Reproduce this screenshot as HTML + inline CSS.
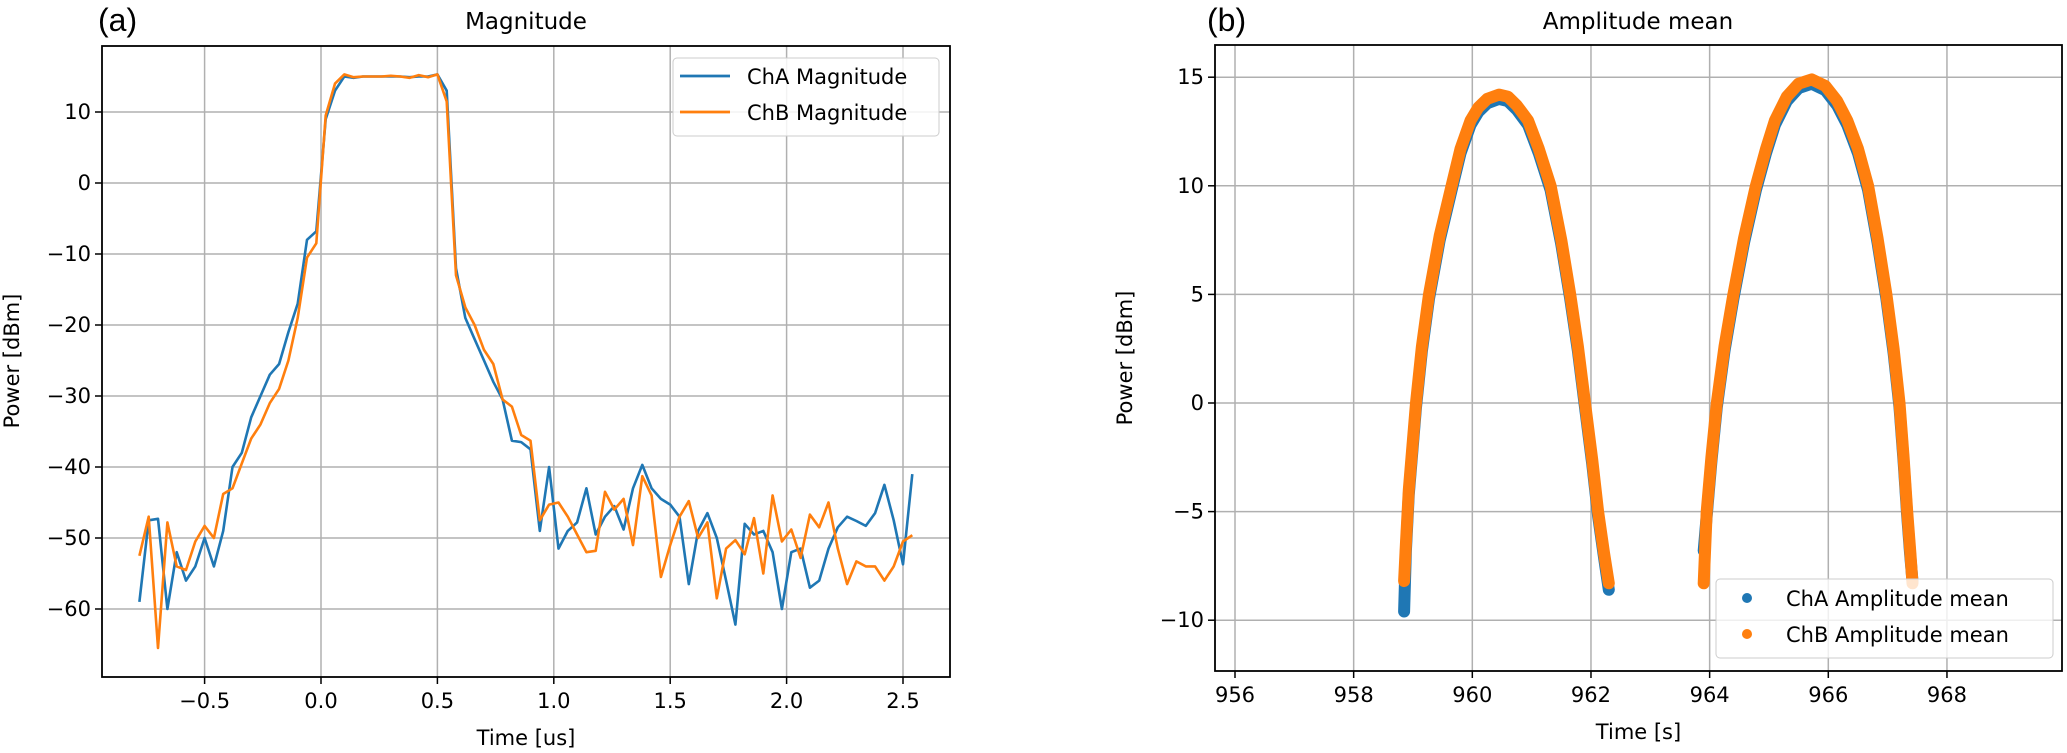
<!DOCTYPE html>
<html><head><meta charset="utf-8"><style>
html,body{margin:0;padding:0;background:#fff;}
svg{display:block;font-family:"DejaVu Sans","Liberation Sans",sans-serif;}
</style></head><body>
<svg id="fig" width="2067" height="753" viewBox="0 0 2067 753">
<text x="98" y="31" font-size="32" font-family="Liberation Sans, sans-serif">(a)</text>
<text x="526" y="29" style="font-size:23px" text-anchor="middle">Magnitude</text>
<text x="1207" y="31" font-size="32" font-family="Liberation Sans, sans-serif">(b)</text>
<text x="1638" y="29" style="font-size:23px" text-anchor="middle">Amplitude mean</text>
<g id="gA"></g>
<g id="gB"></g>
</svg>
<script>
// ---- chart A data ----
const aTimes = [];
for (let i = 0; i < 84; i++) aTimes.push(+(-0.78 + 0.04*i).toFixed(2));
const chaMagnitude = [-59,-47.5,-47.3,-60,-52,-56,-54,-50,-54,-49,-40,-38,-33,-30,-27,-25.5,-21,-17,-8,-6.8,9,13,15,14.8,15,15,15,15,15,14.9,15,15,15.3,13,-12,-19,-22,-25,-28,-30.5,-36.3,-36.5,-37.5,-49,-40,-51.5,-49,-47.8,-43,-49.5,-47,-45.5,-48.8,-43,-39.7,-43,-44.5,-45.3,-47,-56.5,-49,-46.5,-50,-56,-62.2,-48,-49.5,-49,-52,-60,-52,-51.5,-57,-56,-51.5,-48.5,-47,-47.6,-48.3,-46.5,-42.5,-47.5,-53.7,-41];
const chbMagnitude = [-52.5,-47,-65.5,-47.8,-54,-54.5,-50.5,-48.3,-50,-43.8,-43,-39.5,-36,-34,-31,-29,-25,-19,-10.5,-8.5,9.5,14,15.3,14.9,15,15,15,15.1,15,14.8,15.2,14.9,15.3,11.5,-13,-17.5,-20,-23.5,-25.5,-30.5,-31.5,-35.5,-36.3,-47.5,-45.3,-45,-47,-49.5,-52,-51.8,-43.5,-46,-44.5,-51,-41.3,-44,-55.5,-51,-47,-44.8,-50,-47.8,-58.5,-51.5,-50.3,-52.3,-47.2,-55,-44,-50.5,-48.8,-52.8,-46.7,-48.5,-45,-51.5,-56.5,-53.3,-54,-54,-56,-54,-50.5,-49.6];
const aXTicks = [-0.5,0,0.5,1,1.5,2,2.5];
const aXTickLabels = ["\u22120.5","0.0","0.5","1.0","1.5","2.0","2.5"];
const aYTicks = [10,0,-10,-20,-30,-40,-50,-60];
const aYTickLabels = ["10","0","\u221210","\u221220","\u221230","\u221240","\u221250","\u221260"];
// ---- chart B data ----
const bArc1T = [958.85,958.88,958.93,959.05,959.15,959.27,959.45,959.65,959.8,959.97,960.1,960.25,960.45,960.6,960.75,960.94,961.12,961.32,961.5,961.65,961.78,961.9,962.02,962.12,962.22,962.3];
const bArc1ChB = [-8.2,-6.5,-4,0,2.6,5,7.7,10,11.7,13,13.6,14.0,14.2,14.1,13.7,13,11.7,10,7.5,5,2.6,0,-2.6,-5,-6.9,-8.3];
const bArc1ChA = [-9.6,-6.8,-4.2,-0.2,2.4,4.8,7.5,9.8,11.5,12.8,13.4,13.8,14.0,13.9,13.5,12.8,11.5,9.8,7.3,4.8,2.4,-0.2,-2.8,-5.2,-7.1,-8.6];
const bArc2T = [963.9,963.95,964.03,964.12,964.25,964.4,964.58,964.78,964.95,965.1,965.3,965.5,965.72,965.95,966.15,966.32,966.5,966.67,966.83,966.98,967.1,967.2,967.27,967.33,967.38,967.42];
const bArc2ChB = [-8.3,-5,-2.5,0,2.6,5,7.6,10,11.7,13,14.1,14.7,14.9,14.6,13.9,13,11.7,10,7.6,5,2.5,0,-2.5,-5,-6.8,-8.3];
const bArc2ChA = [-6.8,-5.2,-2.7,-0.2,2.4,4.8,7.4,9.8,11.5,12.8,13.9,14.5,14.7,14.4,13.7,12.8,11.5,9.8,7.4,4.8,2.3,-0.2,-2.7,-5.2,-7.0,-8.2];
const bXTicks = [956,958,960,962,964,966,968];
const bYTicks = [15,10,5,0,-5,-10];
const bYTickLabels = ["15","10","5","0","\u22125","\u221210"];

const NS = "http://www.w3.org/2000/svg";
function mk(parent, tag, attrs, text) {
  const e = document.createElementNS(NS, tag);
  for (const k in attrs) e.setAttribute(k, attrs[k]);
  if (text !== undefined) e.textContent = text;
  parent.appendChild(e);
  return e;
}
const BLUE = "#1f77b4", ORANGE = "#ff7f0e";
const FS = 21;

// ---------- Chart A ----------
(function(){
  const g = document.getElementById("gA");
  const L=102,R=950,T=46,B=677;
  const xs = v => 321 + v*232.8;
  const ys = v => 183 - v*7.1;
  aXTicks.forEach((t,i)=>{
    const x = xs(t);
    const gl = mk(g,"line",{x1:x,x2:x,y1:T,y2:B,stroke:"#b0b0b0","stroke-width":1.5});
    
    
    mk(g,"line",{x1:x,x2:x,y1:B,y2:B+7,stroke:"#000","stroke-width":1.5});
    const tl = mk(g,"text",{x:x,y:B+31,"font-size":FS,"text-anchor":"middle"},aXTickLabels[i]);
    
    
  });
  aYTicks.forEach((t,i)=>{
    const y = ys(t);
    const gl = mk(g,"line",{x1:L,x2:R,y1:y,y2:y,stroke:"#b0b0b0","stroke-width":1.5});
    
    
    mk(g,"line",{x1:L-7,x2:L,y1:y,y2:y,stroke:"#000","stroke-width":1.5});
    const tl = mk(g,"text",{x:L-11,y:y+7,"font-size":FS,"text-anchor":"end"},aYTickLabels[i]);
    
    
  });
  [[chaMagnitude,BLUE,'cha-magnitude-line'],[chbMagnitude,ORANGE,'chb-magnitude-line']].forEach(([vals,c,name])=>{
    const pts = vals.map((v,i)=>xs(aTimes[i]).toFixed(1)+","+ys(v).toFixed(1)).join(" ");
    const pl = mk(g,"polyline",{points:pts,fill:"none",stroke:c,"stroke-width":2.6,"stroke-linejoin":"round"});
    
    
  });
  mk(g,"rect",{x:L,y:T,width:R-L,height:B-T,fill:"none",stroke:"#000","stroke-width":1.8});
  const lg = mk(g,"g",{});
  
  
  mk(lg,"rect",{x:673,y:58,width:266,height:78,rx:4,fill:"#fff","fill-opacity":0.85,stroke:"#ccc"});
  mk(lg,"line",{x1:680,x2:730,y1:76,y2:76,stroke:BLUE,"stroke-width":2.8});
  const t1 = mk(lg,"text",{x:747,y:84,"font-size":FS},"ChA Magnitude");
  
  
  mk(lg,"line",{x1:680,x2:730,y1:112,y2:112,stroke:ORANGE,"stroke-width":2.8});
  const t2 = mk(lg,"text",{x:747,y:120,"font-size":FS},"ChB Magnitude");
  
  
  const xl = mk(g,"text",{x:(L+R)/2,y:745,"font-size":FS,"text-anchor":"middle"},"Time [us]");
  
  
  const yl = mk(g,"text",{x:0,y:0,"font-size":FS,"text-anchor":"middle",transform:"translate(19,361) rotate(-90)"},"Power [dBm]");
  
  
})();

// ---------- Chart B ----------
(function(){
  const g = document.getElementById("gB");
  const L=1215,R=2062,T=45,B=671;
  const xs = v => 1235 + (v-956)*59.33;
  const ys = v => 403 - v*21.72;
  bXTicks.forEach((t)=>{
    const x = xs(t);
    const gl = mk(g,"line",{x1:x,x2:x,y1:T,y2:B,stroke:"#b0b0b0","stroke-width":1.5});
    
    
    mk(g,"line",{x1:x,x2:x,y1:B,y2:B+7,stroke:"#000","stroke-width":1.5});
    const tl = mk(g,"text",{x:x,y:B+31,"font-size":FS,"text-anchor":"middle"},String(t));
    
    
  });
  bYTicks.forEach((t,i)=>{
    const y = ys(t);
    const gl = mk(g,"line",{x1:L,x2:R,y1:y,y2:y,stroke:"#b0b0b0","stroke-width":1.5});
    
    
    mk(g,"line",{x1:L-7,x2:L,y1:y,y2:y,stroke:"#000","stroke-width":1.5});
    const tl = mk(g,"text",{x:L-11,y:y+7,"font-size":FS,"text-anchor":"end"},bYTickLabels[i]);
    
    
  });
  const series = [
    [bArc1T,bArc1ChA,BLUE,'cha-amplitude-arc-1'],
    [bArc2T,bArc2ChA,BLUE,'cha-amplitude-arc-2'],
    [bArc1T,bArc1ChB,ORANGE,'chb-amplitude-arc-1'],
    [bArc2T,bArc2ChB,ORANGE,'chb-amplitude-arc-2']
  ];
  series.forEach(([ts,vals,c,name])=>{
    const pts = vals.map((v,i)=>xs(ts[i]).toFixed(1)+","+ys(v).toFixed(1)).join(" ");
    const pl = mk(g,"polyline",{points:pts,fill:"none",stroke:c,"stroke-width":12,"stroke-linejoin":"round","stroke-linecap":"round"});
    
    
  });
  mk(g,"rect",{x:L,y:T,width:R-L,height:B-T,fill:"none",stroke:"#000","stroke-width":1.8});
  const lg = mk(g,"g",{});
  
  
  mk(lg,"rect",{x:1716,y:579,width:337,height:79,rx:4,fill:"#fff","fill-opacity":0.8,stroke:"#ccc"});
  mk(lg,"circle",{cx:1747,cy:598,r:5,fill:BLUE});
  const t1 = mk(lg,"text",{x:1786,y:606,"font-size":FS},"ChA Amplitude mean");
  
  
  mk(lg,"circle",{cx:1747,cy:634,r:5,fill:ORANGE});
  const t2 = mk(lg,"text",{x:1786,y:642,"font-size":FS},"ChB Amplitude mean");
  
  
  const xl = mk(g,"text",{x:(L+R)/2,y:739,"font-size":FS,"text-anchor":"middle"},"Time [s]");
  
  
  const yl = mk(g,"text",{x:0,y:0,"font-size":FS,"text-anchor":"middle",transform:"translate(1132,358) rotate(-90)"},"Power [dBm]");
  
  
})();
</script>
</body></html>
